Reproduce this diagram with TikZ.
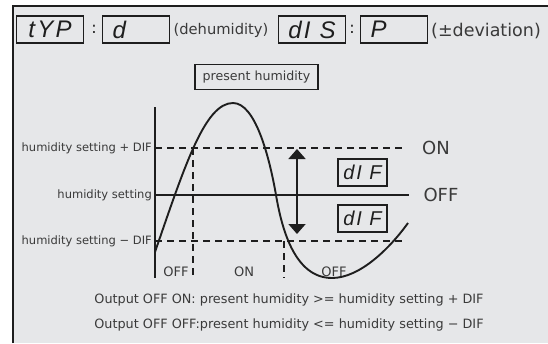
\documentclass[tikz,border=0pt]{standalone}
\usepackage{fontspec}
\setmainfont{DejaVu Sans}
\newfontfamily\segfont[LetterSpace=10]{Liberation Sans}
\usetikzlibrary{arrows.meta}
\definecolor{bg}{HTML}{E6E7E9}
\definecolor{ink}{HTML}{1E1E1E}
\definecolor{txt}{HTML}{3A3A3A}
\begin{document}
\begin{tikzpicture}[x=1pt,y=-1pt,
  disp/.style={draw=ink, line width=1.8pt, minimum height=27pt, inner sep=0pt, text=ink,
     font=\segfont\itshape\fontsize{24}{24}\selectfont},
  dispc/.style={disp, minimum width=67pt},
  displ/.style={disp, text width=47pt, inner xsep=10pt, align=left},
  difbox/.style={draw=ink, line width=1.5pt, minimum width=49pt, minimum height=27pt, inner sep=0pt, text=ink,
     font=\segfont\itshape\fontsize{20}{20}\selectfont},
  lbl/.style={text=txt, inner sep=0pt, font=\fontsize{11.5}{12}\selectfont},
  big/.style={text=txt, inner sep=0pt, font=\fontsize{18}{18}\selectfont},
  small/.style={text=txt, inner sep=0pt, font=\fontsize{13}{13}\selectfont},
  note/.style={text=txt, inner sep=0pt, font=\fontsize{12.8}{13}\selectfont},
  dline/.style={ink, line width=2pt, dash pattern=on 7pt off 5pt},
  sline/.style={ink, line width=1.8pt}
]
\useasboundingbox (0,0) rectangle (548,343);
\fill[white] (0,0) rectangle (548,343);
\fill[bg] (13,6) rectangle (548,343);
\draw[ink, line width=1.6pt] (13,343) -- (13,6) -- (548,6);

% top row
\node[dispc] (typ) at (50,29.5) {tYP};
\node[text=ink, inner sep=0pt, font=\fontsize{16}{16}\selectfont] (c1) at (94,29) {:};
\node[displ] (dval) at (136,29.5) {d};
\node[text=txt, inner sep=0pt, font=\fontsize{14.7}{15}\selectfont] (dehum) at (221,30) {(dehumidity)};
\node[dispc] (dis) at (312,29.5) {dI S};
\node[text=ink, inner sep=0pt, font=\fontsize{16}{16}\selectfont] (c2) at (352,29) {:};
\node[displ] (pval) at (394,29.5) {P};
\node[text=txt, inner sep=0pt, font=\fontsize{17.5}{18}\selectfont] (dev) at (486,31) {(±deviation)};

% present humidity box
\node[draw=ink, line width=1.1pt, minimum width=123pt, minimum height=25pt, inner sep=0pt, text=txt,
  font=\fontsize{12.6}{13}\selectfont] (ph) at (256.5,77) {present humidity};

% axis and levels
\coordinate (axtop) at (155,107);
\coordinate (axbot) at (155,278);
\draw[sline] (axtop) -- (axbot);

\coordinate (hi0) at (155,148);  \coordinate (hi1) at (406,148);
\coordinate (mid0) at (155,195); \coordinate (mid1) at (409,195);
\coordinate (lo0) at (155,241);  \coordinate (lo1) at (406,241);
\draw[dline] (hi0) -- (hi1);
\draw[sline] (mid0) -- (mid1);
\draw[dline] (lo0) -- (lo1);

\coordinate (v1a) at (193,148); \coordinate (v1b) at (193,278);
\coordinate (v2a) at (284,241); \coordinate (v2b) at (284,278);
\draw[dline] (v1a) -- (v1b);
\draw[dline] (v2a) -- (v2b);

% curve
\draw[ink, line width=1.9pt] (155,252) .. controls (185,165) and (205,103) .. (233,103)
   .. controls (255,103) and (269,155) .. (276,195)
   .. controls (282,230) and (295,278) .. (332,278)
   .. controls (360,278) and (390,248) .. (408,223);

% arrow
\coordinate (atop) at (297,149);
\coordinate (abot) at (297,234);
\draw[ink, line width=1.8pt, {Triangle[width=17pt,length=10pt]}-{Triangle[width=17pt,length=10pt]}] (atop) -- (abot);

% dIF boxes
\node[difbox] (dif1) at (362.5,172.5) {dI F};
\node[difbox] (dif2) at (362.5,218.5) {dI F};

% labels
\node[lbl, anchor=east] (lhi) at (152,148) {humidity setting + DIF};
\node[lbl, anchor=east] (lmid) at (152,195) {humidity setting};
\node[lbl, anchor=east] (llo) at (152,241) {humidity setting − DIF};
\node[big] (on) at (436,148) {ON};
\node[big] (off) at (441,195) {OFF};
\node[small] (b1) at (176,272) {OFF};
\node[small] (b2) at (244,272) {ON};
\node[small] (b3) at (334,272) {OFF};

\node[note] (n1) at (289,300) {Output OFF ON: present humidity >= humidity setting + DIF};
\node[note] (n2) at (289,325) {Output OFF OFF:present humidity <= humidity setting − DIF};
\end{tikzpicture}
\end{document}
